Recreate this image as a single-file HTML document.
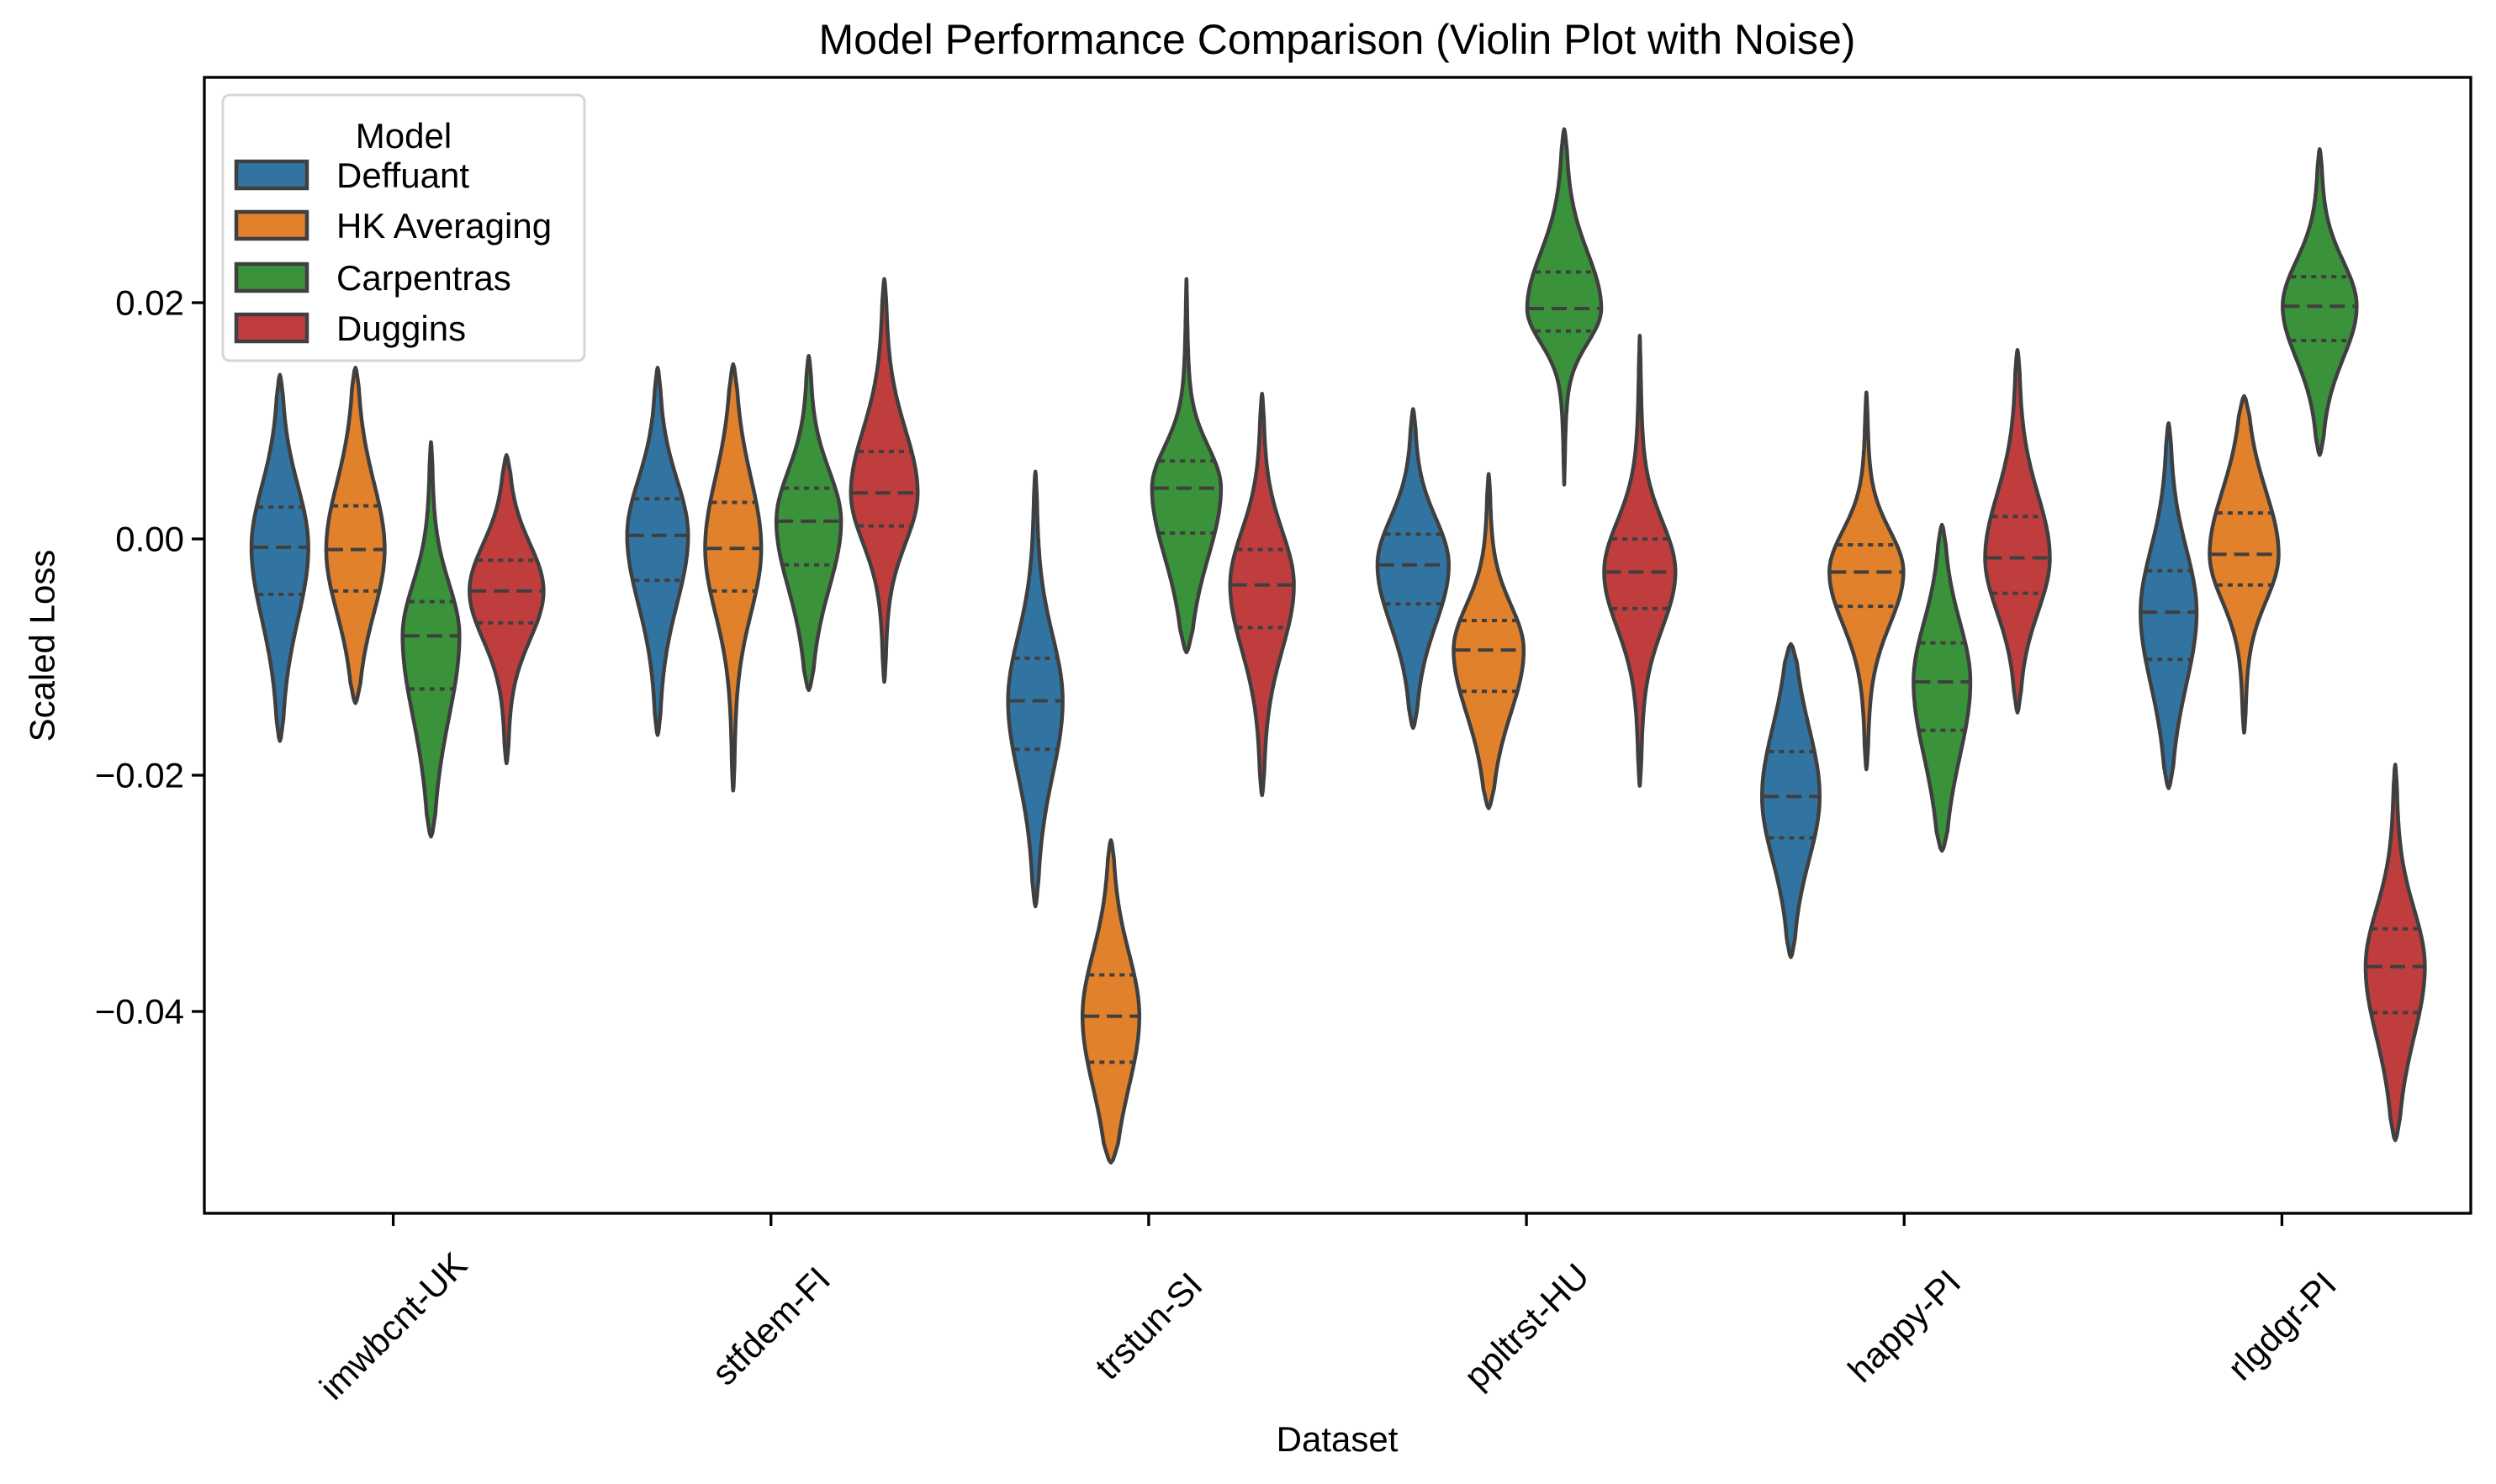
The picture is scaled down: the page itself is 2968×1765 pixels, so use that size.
<!DOCTYPE html>
<html><head><meta charset="utf-8"><title>Violin chart</title>
<style>html,body{margin:0;padding:0;background:#fff}svg{display:block;font-family:"Liberation Sans","DejaVu Sans",sans-serif}</style>
</head><body>
<svg id="chart" width="2968" height="1765" viewBox="0 0 2968 1765" xmlns="http://www.w3.org/2000/svg">
<rect width="2968" height="1765" fill="#fff"/>
<text x="1590" y="64" font-size="50" text-anchor="middle">Model Performance Comparison (Violin Plot with Noise)</text>
<g id="plot"></g>
<g id="axes"></g>
<text x="1590" y="1726" font-size="42" text-anchor="middle">Dataset</text>
<text transform="translate(50,768) rotate(-90)" font-size="42" text-anchor="middle" dominant-baseline="central">Scaled Loss</text>
<g id="legend">
<rect x="265" y="113" width="430" height="316" rx="8" fill="#fff" fill-opacity="0.8" stroke="#d6d6d6" stroke-width="3"/>
<text x="480" y="176" font-size="42" text-anchor="middle">Model</text>
<g><rect x="281" y="192" width="84" height="32" fill="#3274a1" stroke="#3f3f3f" stroke-width="4.5"/><text x="400" y="223" font-size="42">Deffuant</text></g>
<g><rect x="281" y="252" width="84" height="32" fill="#e1812c" stroke="#3f3f3f" stroke-width="4.5"/><text x="400" y="283" font-size="42">HK Averaging</text></g>
<g><rect x="281" y="314" width="84" height="32" fill="#3a923a" stroke="#3f3f3f" stroke-width="4.5"/><text x="400" y="345" font-size="42">Carpentras</text></g>
<g><rect x="281" y="374" width="84" height="32" fill="#c03d3e" stroke="#3f3f3f" stroke-width="4.5"/><text x="400" y="405" font-size="42">Duggins</text></g>
</g>
</svg>
<script>
const categories = ["imwbcnt-UK","stfdem-FI","trstun-SI","ppltrst-HU","happy-PI","rlgdgr-PI"];
const models = ["Deffuant","HK Averaging","Carpentras","Duggins"];
const colors = ["#3274a1","#e1812c","#3a923a","#c03d3e"];
const yTicks = [0.02, 0.00, -0.02, -0.04];
const yTickLabels = ["0.02","0.00","\u22120.02","\u22120.04"];
// per model: rows = categories
const maxVals = [
 [0.0139,0.0145,0.0057,0.0110,-0.0089,0.0098],
 [0.0145,0.0148,-0.0255,0.0055,0.0124,0.0121],
 [0.0082,0.0155,0.0220,0.0347,0.0012,0.0330],
 [0.0071,0.0220,0.0123,0.0172,0.0160,-0.0191]];
const q3Vals = [
 [0.0027,0.0034,-0.0101,0.0004,-0.0180,-0.0027],
 [0.0028,0.0031,-0.0369,-0.0069,-0.0005,0.0022],
 [-0.0053,0.0043,0.0066,0.0226,-0.0088,0.0222],
 [-0.0018,0.0074,-0.0009,0.0000,0.0019,-0.0330]];
const medVals = [
 [-0.0007,0.0003,-0.0137,-0.0022,-0.0218,-0.0062],
 [-0.0009,-0.0008,-0.0404,-0.0094,-0.0028,-0.0013],
 [-0.0082,0.0015,0.0043,0.0195,-0.0121,0.0197],
 [-0.0044,0.0039,-0.0039,-0.0028,-0.0016,-0.0362]];
const q1Vals = [
 [-0.0047,-0.0035,-0.0178,-0.0055,-0.0253,-0.0102],
 [-0.0044,-0.0044,-0.0443,-0.0129,-0.0057,-0.0039],
 [-0.0127,-0.0022,0.0005,0.0176,-0.0162,0.0168],
 [-0.0071,0.0011,-0.0075,-0.0059,-0.0046,-0.0401]];
const minVals = [
 [-0.0171,-0.0166,-0.0311,-0.0160,-0.0354,-0.0211],
 [-0.0139,-0.0213,-0.0528,-0.0228,-0.0195,-0.0164],
 [-0.0252,-0.0128,-0.0096,0.0046,-0.0264,0.0071],
 [-0.0190,-0.0121,-0.0217,-0.0209,-0.0147,-0.0509]];

const L=243,R=2938,T=92,B=1443;
const yScale = v => 641 - v*14050;
const band = (R-L)/categories.length;
const xScale = i => L + band*(i+0.5);
const NS="http://www.w3.org/2000/svg";
function mk(tag, attrs, parent){const e=document.createElementNS(NS,tag);for(const k in attrs)e.setAttribute(k,attrs[k]);parent.appendChild(e);return e;}
const plot=document.getElementById('plot'), axes=document.getElementById('axes');

function dens(v,mn,q1,md,q3,mx){
  const sd = v>=md ? Math.max((q3-md)/0.674,1e-4) : Math.max((md-q1)/0.674,1e-4);
  const z=(v-md)/sd;
  let f=0.85*Math.exp(-0.5*z*z)+0.15*Math.exp(-0.5*(z/2.2)*(z/2.2));
  const rng=mx-mn, e=0.06*rng;
  f*=Math.sqrt(Math.min(1,Math.max(0,(v-mn)/e)))*Math.sqrt(Math.min(1,Math.max(0,(mx-v)/e)));
  return f;
}
models.forEach((m,mi)=>{
  categories.forEach((c,ci)=>{
    const mn=minVals[mi][ci], mx=maxVals[mi][ci], q1=q1Vals[mi][ci], md=medVals[mi][ci], q3=q3Vals[mi][ci];
    const cx = xScale(ci) + (mi-1.5)*band*0.2;
    const W = Math.min(44, 0.25/Math.max(q3-q1,1e-4));
    const N=120, right=[], left=[];
    for(let k=0;k<=N;k++){
      const v = mx - (mx-mn)*k/N;
      const w = W*dens(v,mn,q1,md,q3,mx);
      right.push((cx+w).toFixed(1)+','+yScale(v).toFixed(1));
      left.unshift((cx-w).toFixed(1)+','+yScale(v).toFixed(1));
    }
    const g=mk('g',{},plot);
    
    
    mk('path',{d:'M'+right.join(' L')+' L'+left.join(' L')+' Z',fill:colors[mi],stroke:'#3f3f3f','stroke-width':4.5,'stroke-linejoin':'round'},g);
    [[q1,'6,6'],[md,'18,9'],[q3,'6,6']].forEach(([v,da])=>{
      const w=W*dens(v,mn,q1,md,q3,mx), y=yScale(v);
      const ln=mk('line',{x1:cx-w+2,x2:cx+w-2,y1:y,y2:y,stroke:'#3f3f3f','stroke-width':4,'stroke-dasharray':da},g);
      
      
    });
  });
});
// spines
const fr=mk('rect',{x:L,y:T,width:R-L,height:B-T,fill:'none',stroke:'#000','stroke-width':3.3},axes);


yTicks.forEach((v,i)=>{
  const y=yScale(v);
  mk('line',{x1:L-15,x2:L,y1:y,y2:y,stroke:'#000','stroke-width':3.3},axes);
  const t=mk('text',{x:L-24,y:y,'font-size':42,'text-anchor':'end','dominant-baseline':'central'},axes);
  t.textContent=yTickLabels[i];
  
  
});
categories.forEach((c,i)=>{
  const x=xScale(i);
  mk('line',{x1:x,x2:x,y1:B,y2:B+15,stroke:'#000','stroke-width':3.3},axes);
  const t=mk('text',{transform:`translate(${x},1577) rotate(-45)`,'font-size':42,'text-anchor':'middle','dominant-baseline':'central'},axes);
  t.textContent=c;
  
  
});
</script>
</body></html>
